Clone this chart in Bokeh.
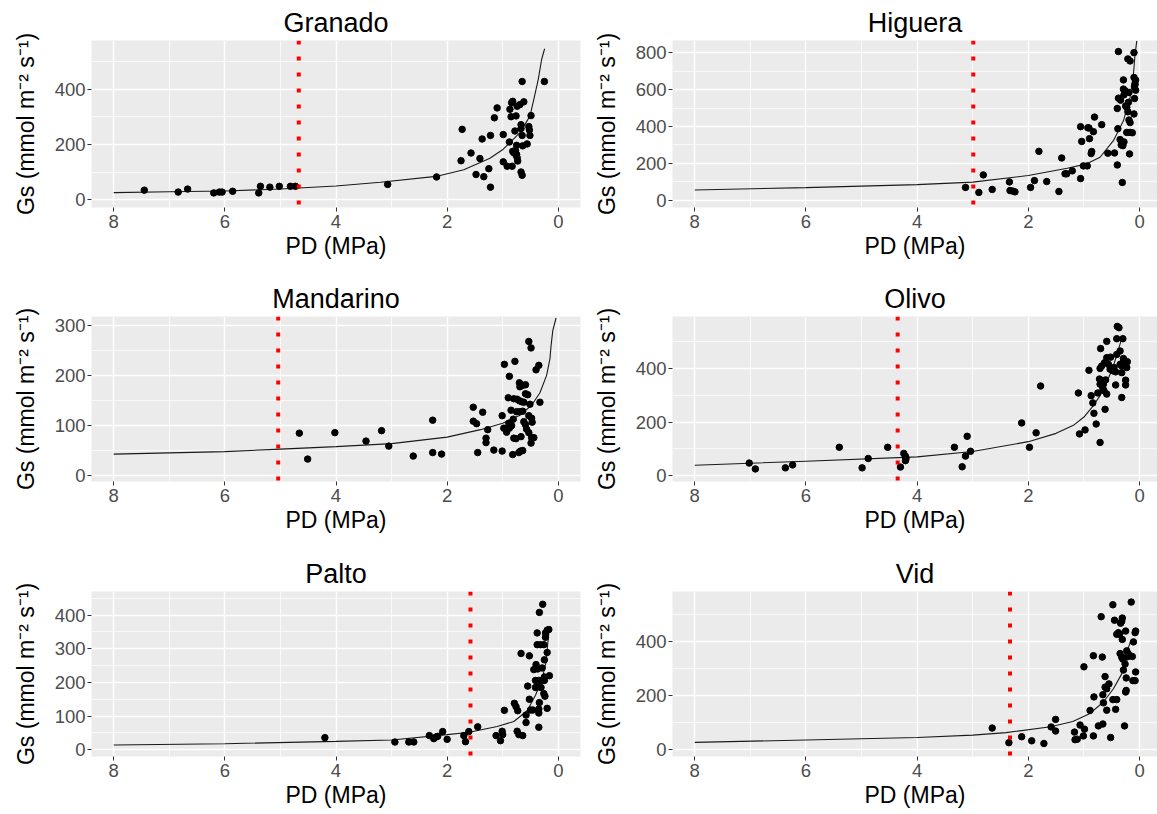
from bokeh.plotting import figure
from bokeh.models import Range1d, FixedTicker, Span
from bokeh.layouts import column, row
from bokeh.embed import file_html
from bokeh.resources import INLINE

FONT = "Liberation Sans"

# ---------------- data ----------------
granado_pd = [7.45, 6.84, 6.67, 6.20, 6.10, 6.05, 5.86, 5.39, 5.36, 5.19, 5.02, 4.82, 4.73, 3.07, 2.19,
              1.73, 1.75, 1.57, 1.41, 1.37, 1.48, 1.34, 1.25, 1.22, 1.22, 1.15, 1.10, 0.99, 0.99, 0.92,
              0.83, 0.88, 0.87, 0.84, 0.82, 0.85, 0.76, 0.78, 0.75, 0.77, 0.80, 0.75, 0.74, 0.73, 0.76,
              0.82, 0.74, 0.69, 0.62, 0.65, 0.67, 0.67, 0.65, 0.64, 0.67, 0.65, 0.56, 0.53, 0.52, 0.51,
              0.49, 0.25]
granado_gs = [34, 27, 38, 24, 27, 27, 30, 24, 48, 45, 48, 48, 48, 55, 82,
              255, 141, 169, 149, 220, 91, 83, 112, 45, 233, 297, 333, 236, 137, 121,
              121, 209, 328, 352, 357, 301, 304, 249, 197, 178, 170, 164, 152, 140, 162,
              175, 339, 345, 355, 429, 272, 258, 233, 195, 100, 88, 202, 265, 253, 233,
              305, 429]
granado_fit_pd = [8, 7, 6, 5, 4, 3.2, 2.2, 1.7, 1.23, 0.99, 0.69, 0.51, 0.44, 0.36, 0.30, 0.246]
granado_fit_gs = [25, 28, 31, 38, 49, 63, 84, 108, 150, 183, 243, 303, 364, 437, 509, 548]
granado_thr = 4.67

higuera_pd = [3.13, 2.89, 2.81, 2.65, 2.34, 2.33, 2.28, 2.24, 1.96, 1.89, 1.81, 1.67, 1.45, 1.40, 1.34,
              1.31, 1.21, 1.06, 1.06, 1.04, 1.01, 0.94, 0.93, 0.91, 0.90, 0.87, 0.86, 0.83, 0.81, 0.68,
              0.57, 0.45, 0.39, 0.40, 0.38, 0.31, 0.35, 0.33, 0.30, 0.28, 0.29, 0.40, 0.38, 0.34, 0.29,
              0.28, 0.26, 0.23, 0.21, 0.25, 0.20, 0.19, 0.23, 0.17, 0.13, 0.19, 0.17, 0.18, 0.21, 0.17,
              0.10, 0.10, 0.07, 0.08, 0.09, 0.07, 0.09, 0.10]
higuera_gs = [69, 42, 137, 58, 99, 52, 49, 45, 69, 106, 265, 101, 47, 229, 143,
              143, 159, 117, 399, 319, 186, 186, 393, 392, 334, 253, 264, 372, 451, 410,
              255, 256, 388, 191, 807, 96, 329, 300, 296, 316, 653, 498, 554, 543, 603,
              572, 594, 504, 480, 511, 531, 585, 368, 368, 366, 435, 421, 251, 767, 756,
              801, 666, 652, 630, 617, 597, 552, 468]
higuera_fit_pd = [8, 6, 4, 3, 2, 1.3, 0.95, 0.71, 0.47, 0.29, 0.17, 0.11, 0.08, 0.05]
higuera_fit_gs = [55, 68, 84, 98, 134, 173, 197, 233, 323, 431, 558, 684, 792, 865]
higuera_thr = 2.99

mandarino_pd = [4.66, 4.51, 4.02, 3.46, 3.18, 3.05, 2.61, 2.26, 2.26, 2.10, 1.53, 1.53, 1.47, 1.36, 1.45,
                1.30, 1.30, 1.27, 1.16, 1.01, 1.01, 0.97, 0.88, 0.90, 0.85, 0.78, 0.98, 0.93, 0.88, 0.84,
                0.81, 0.89, 0.80, 0.74, 0.75, 0.69, 0.64, 0.80, 0.76, 0.82, 0.71, 0.68, 0.64, 0.67, 0.70,
                0.69, 0.64, 0.59, 0.70, 0.66, 0.62, 0.59, 0.55, 0.62, 0.59, 0.57, 0.53, 0.48, 0.47, 0.53,
                0.48, 0.44, 0.49, 0.53, 0.49, 0.40, 0.35, 0.51, 0.33]
mandarino_gs = [84, 32, 85, 68, 89, 58, 38, 110, 45, 42, 136, 108, 103, 126, 45,
                74, 65, 91, 50, 48, 119, 222, 198, 155, 130, 228, 94, 86, 94, 99,
                112, 104, 153, 152, 127, 127, 128, 74, 73, 41, 45, 48, 49, 77, 185,
                177, 180, 181, 149, 147, 146, 163, 161, 107, 101, 92, 119, 114, 106, 85,
                75, 75, 64, 268, 255, 211, 220, 142, 146]
mandarino_fit_pd = [8, 6, 5, 4, 3, 2, 1.4, 1.0, 0.69, 0.48, 0.33, 0.21, 0.15, 0.13, 0.10, 0.04]
mandarino_fit_gs = [42, 47, 52, 57, 63, 76, 91, 104, 120, 140, 165, 200, 233, 259, 289, 315]
mandarino_thr = 5.04

olivo_pd = [7.02, 6.91, 6.37, 6.24, 5.40, 4.99, 4.88, 4.53, 4.30, 4.24, 4.21, 4.20, 4.21, 3.33, 3.19,
            3.13, 3.10, 3.04, 2.12, 1.98, 1.86, 1.78, 1.10, 1.08, 0.98, 0.91, 0.87, 0.84, 0.82, 0.78,
            0.75, 0.71, 0.70, 0.62, 0.71, 0.68, 0.72, 0.68, 0.65, 0.61, 0.71, 0.66, 0.64, 0.59, 0.63,
            0.59, 0.52, 0.59, 0.56, 0.53, 0.48, 0.46, 0.43, 0.41, 0.40, 0.37, 0.41, 0.35, 0.30, 0.35,
            0.32, 0.30, 0.32, 0.32, 0.29, 0.25, 0.25, 0.23, 0.22, 0.43]
olivo_gs = [47, 25, 29, 40, 106, 29, 64, 106, 32, 83, 72, 64, 56, 106, 33,
            73, 147, 91, 197, 106, 160, 335, 309, 156, 171, 394, 299, 272, 233, 193,
            309, 124, 475, 248, 401, 410, 361, 355, 342, 358, 342, 326, 318, 305, 422,
            441, 443, 502, 416, 398, 392, 404, 339, 512, 558, 553, 453, 466, 512, 416,
            410, 422, 385, 292, 438, 357, 339, 404, 426, 388]
olivo_fit_pd = [8, 6, 4, 3, 2, 1.5, 1.19, 1.0, 0.83, 0.71, 0.59, 0.47, 0.38, 0.32]
olivo_fit_gs = [39, 54, 70, 90, 127, 158, 188, 219, 262, 299, 348, 410, 472, 512]
olivo_thr = 4.35

palto_pd = [4.20, 2.94, 2.69, 2.60, 2.32, 2.24, 2.20, 2.17, 2.08, 2.00, 1.70, 1.67, 1.61, 1.45, 1.12,
            1.04, 1.01, 1.00, 0.97, 0.79, 0.76, 0.73, 0.74, 0.71, 0.64, 0.67, 0.58, 0.58, 0.55, 0.52,
            0.52, 0.50, 0.46, 0.38, 0.40, 0.44, 0.37, 0.41, 0.35, 0.29, 0.25, 0.41, 0.35, 0.31, 0.38,
            0.32, 0.26, 0.35, 0.35, 0.34, 0.35, 0.34, 0.28, 0.29, 0.26, 0.24, 0.23, 0.20, 0.17, 0.23,
            0.20, 0.25, 0.20, 0.16, 0.25]
palto_gs = [36, 23, 23, 23, 42, 33, 38, 40, 54, 31, 42, 24, 54, 68, 42,
            27, 55, 45, 117, 138, 128, 116, 55, 45, 42, 286, 103, 81, 189, 279,
            150, 118, 118, 347, 253, 238, 240, 206, 206, 206, 206, 185, 187, 185, 312,
            312, 312, 121, 109, 140, 67, 408, 432, 243, 167, 159, 347, 355, 357, 334,
            289, 267, 123, 220, 216]
palto_fit_pd = [8, 6, 4, 3, 2, 1.6, 1.1, 0.8, 0.56, 0.41, 0.29, 0.22, 0.19, 0.17]
palto_fit_gs = [14, 18, 25, 29, 45, 52, 69, 84, 116, 162, 211, 260, 314, 348]
palto_thr = 1.58

vid_pd = [2.65, 2.35, 2.12, 1.94, 1.72, 1.59, 1.51, 1.51, 1.17, 1.16, 1.12, 1.07, 1.01, 1.00, 0.99,
          0.83, 0.67, 0.89, 0.83, 0.82, 0.74, 0.66, 0.66, 0.65, 0.62, 0.62, 0.59, 0.55, 0.59, 0.52,
          0.48, 0.69, 0.43, 0.48, 0.41, 0.45, 0.41, 0.38, 0.36, 0.34, 0.32, 0.31, 0.31, 0.35, 0.32,
          0.30, 0.25, 0.27, 0.26, 0.29, 0.23, 0.20, 0.22, 0.24, 0.24, 0.25, 0.15, 0.13, 0.11, 0.07,
          0.08, 0.07, 0.12, 0.08]
vid_gs = [81, 27, 49, 34, 24, 85, 70, 113, 66, 38, 40, 92, 52, 307, 77,
          348, 343, 146, 52, 196, 89, 96, 204, 174, 271, 232, 226, 244, 147, 46,
          536, 492, 150, 186, 186, 479, 427, 433, 427, 468, 475, 487, 408, 356, 342,
          335, 439, 89, 317, 295, 366, 354, 344, 266, 220, 214, 546, 345, 399, 439,
          433, 288, 256, 256]
vid_fit_pd = [8, 6, 4, 3, 2.4, 1.6, 1.2, 0.89, 0.65, 0.47, 0.32, 0.24, 0.20, 0.16]
vid_fit_gs = [28, 37, 46, 55, 64, 86, 105, 135, 177, 226, 281, 329, 378, 402]
vid_thr = 2.33

x_ticks = [0, 2, 4, 6, 8]
x_minor = [1, 3, 5, 7]

Y_LABEL = "Gs (mmol m\u207b\u00b2 s\u207b\u00b9)"
X_LABEL = "PD (MPa)"


def panel(title, pd_, gs_, fpd, fgs, thr, yr, yt, ymt, width, height, xr, bl, br, bt, bb):
    p = figure(width=width, height=height, output_backend="svg", toolbar_location=None,
               x_range=Range1d(*xr), y_range=Range1d(*yr),
               min_border_left=bl, min_border_right=br, min_border_top=bt, min_border_bottom=bb,
               background_fill_color="#EBEBEB", border_fill_color="white",
               outline_line_color=None, title=title)
    p.title.align = "center"
    p.title.text_font = FONT
    p.title.text_font_size = "27px"
    p.title.text_font_style = "normal"
    p.title.text_color = "black"
    p.title.standoff = 5.5

    p.xaxis.ticker = FixedTicker(ticks=x_ticks, minor_ticks=x_minor)
    p.yaxis.ticker = FixedTicker(ticks=yt, minor_ticks=ymt)
    for g in (p.xgrid, p.ygrid):
        g.grid_line_color = "white"
        g.grid_line_width = 1.4
        g.minor_grid_line_color = "white"
        g.minor_grid_line_width = 0.7
    for ax in (p.xaxis, p.yaxis):
        ax.axis_line_color = None
        ax.major_tick_line_color = "#333333"
        ax.major_tick_line_width = 1
        ax.major_tick_out = 4
        ax.major_tick_in = 0
        ax.minor_tick_line_color = None
        ax.major_label_text_font = FONT
        ax.major_label_text_font_size = "18.5px"
        ax.major_label_text_color = "#4D4D4D"
        ax.axis_label_text_font = FONT
        ax.axis_label_text_font_size = "23px"
        ax.axis_label_text_font_style = "normal"
        ax.axis_label_text_color = "black"
    p.xaxis.axis_label = X_LABEL
    p.yaxis.axis_label = Y_LABEL
    p.xaxis.major_label_standoff = 3
    p.xaxis.axis_label_standoff = 2
    p.yaxis.major_label_standoff = 2
    p.yaxis.axis_label_standoff = 13

    p.add_layout(Span(location=thr, dimension="height", line_color="red",
                      line_width=4, line_dash="4 12"))
    p.line(fpd, fgs, line_color="#1a1a1a", line_width=1.1)
    p.scatter(pd_, gs_, size=6.5, color="black")
    return p


LW, RW = 590, 567
LXR = (8.4, -0.4)
RXR = (8.4, 8.4 - 485 / 55.6)
LBL, LBR = 91, 10
RBL, RBR = 82, 0
ROWS = [(278, 40, 71), (275, 36, 72), (261, 36, 58)]

(h1, t1, b1), (h2, t2, b2), (h3, t3, b3) = ROWS

f1 = panel("Granado", granado_pd, granado_gs, granado_fit_pd, granado_fit_gs, granado_thr,
           (-29, 578), [0, 200, 400], [100, 300, 500], LW, h1, LXR, LBL, LBR, t1, b1)
f2 = panel("Higuera", higuera_pd, higuera_gs, higuera_fit_pd, higuera_fit_gs, higuera_thr,
           (-40, 867), [0, 200, 400, 600, 800], [100, 300, 500, 700], RW, h1, RXR, RBL, RBR, t1, b1)
f3 = panel("Mandarino", mandarino_pd, mandarino_gs, mandarino_fit_pd, mandarino_fit_gs, mandarino_thr,
           (-13, 318), [0, 100, 200, 300], [50, 150, 250], LW, h2, LXR, LBL, LBR, t2, b2)
f4 = panel("Olivo", olivo_pd, olivo_gs, olivo_fit_pd, olivo_fit_gs, olivo_thr,
           (-22, 595), [0, 200, 400], [100, 300, 500], RW, h2, RXR, RBL, RBR, t2, b2)
f5 = panel("Palto", palto_pd, palto_gs, palto_fit_pd, palto_fit_gs, palto_thr,
           (-20, 470), [0, 100, 200, 300, 400], [50, 150, 250, 350, 450], LW, h3, LXR, LBL, LBR, t3, b3)
f6 = panel("Vid", vid_pd, vid_gs, vid_fit_pd, vid_fit_gs, vid_thr,
           (-24, 585), [0, 200, 400], [100, 300, 500], RW, h3, RXR, RBL, RBR, t3, b3)

layout = column(row(f1, f2), row(f3, f4), row(f5, f6))
open("out.html", "w").write(file_html(layout, INLINE))
